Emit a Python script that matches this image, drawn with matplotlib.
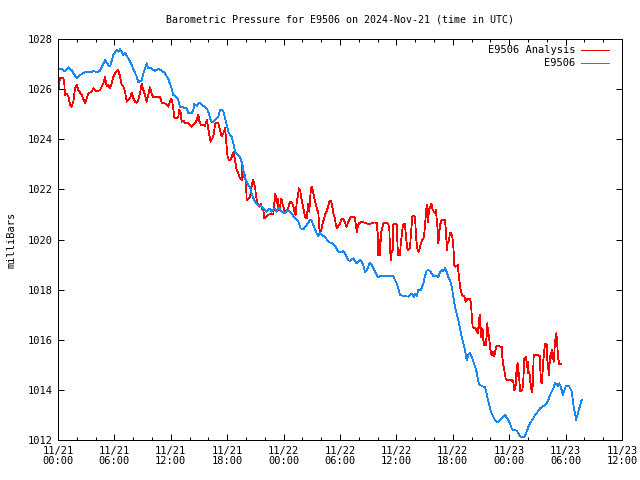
import matplotlib
matplotlib.use('Agg')
import matplotlib.pyplot as plt
from matplotlib.lines import Line2D

# Hours since 2024-11-21 00:00 UTC
red_hours = [0.0, 0.2, 0.57, 0.67, 0.74, 0.92, 1.1, 1.28, 1.45, 1.63, 1.81, 1.99, 2.16, 2.52, 2.87, 3.05,
             3.23, 3.58, 3.76, 4.11, 4.47, 4.82, 5.0, 5.18, 5.35, 5.53, 5.71, 5.89, 6.06, 6.24, 6.42, 6.6,
             6.77, 6.95, 7.13, 7.31, 7.48, 7.66, 7.84, 8.01, 8.19, 8.37, 8.55, 8.72, 8.9, 9.08, 9.25, 9.43,
             9.6, 9.78, 9.96, 10.1, 10.85, 11.03, 11.38, 11.56, 11.74, 12.02, 12.16, 12.38, 12.62, 12.8,
             12.9, 13.05, 13.16, 13.33, 13.5, 13.87, 14.22, 14.4, 14.57, 14.75, 14.93, 15.03, 15.2, 15.46,
             15.64, 15.82, 15.92, 16.1, 16.24, 16.42, 16.6, 16.7, 16.88, 17.05, 17.23, 17.41, 17.59, 17.77,
             17.94, 18.05, 18.19, 18.4, 18.55, 18.69, 18.83, 19.01, 19.19, 19.36, 19.54, 19.61, 19.72, 19.79,
             19.89, 20.0, 20.07, 20.25, 20.43, 20.53, 20.64, 20.78, 20.96, 21.06, 21.2, 21.31, 21.42, 21.56,
             21.67, 21.84, 21.95, 22.13, 22.38, 22.73, 22.91, 23.01, 23.12, 23.26, 23.37, 23.48, 23.62, 23.76,
             23.9, 24.04, 24.18, 24.33, 24.5, 24.61, 24.75, 24.93, 25.04, 25.14, 25.28, 25.39, 25.5, 25.64,
             25.78, 25.89, 26.03, 26.17, 26.28, 26.45, 26.63, 26.74, 26.81, 26.91, 27.02, 27.16, 27.3, 27.44,
             27.59, 27.7, 27.8, 27.94, 28.05, 28.16, 28.3, 28.44, 28.58, 28.72, 28.87, 29.01, 29.15, 29.29,
             29.43, 29.57, 29.68, 29.82, 30.0, 30.18, 30.35, 30.53, 30.71, 30.89, 31.06, 31.24, 31.42, 31.6,
             31.7, 31.81, 31.88, 32.02, 32.23, 32.66, 33.01, 33.37, 33.55, 33.9, 34.01, 34.08, 34.18, 34.26,
             34.36, 34.43, 34.61, 34.72, 34.96, 35.14, 35.25, 35.32, 35.43, 35.5, 35.6, 35.67, 35.78, 36.03,
             36.14, 36.2, 36.38, 36.49, 36.56, 36.67, 36.81, 36.91, 37.02, 37.16, 37.27, 37.45, 37.55, 37.7,
             37.84, 37.98, 38.09, 38.19, 38.33, 38.44, 38.62, 38.76, 38.87, 38.97, 39.11, 39.22, 39.29, 39.36,
             39.47, 39.61, 39.72, 39.82, 39.97, 40.11, 40.21, 40.28, 40.39, 40.46, 40.53, 40.64, 40.82, 40.99,
             41.17, 41.28, 41.38, 41.45, 41.6, 41.7, 41.81, 41.95, 42.06, 42.16, 42.3, 42.52, 42.66, 42.77,
             42.87, 43.01, 43.23, 43.37, 43.51, 43.65, 43.83, 43.94, 44.01, 44.11, 44.29, 44.43, 44.57, 44.65,
             44.72, 44.79, 44.86, 44.93, 45.0, 45.07, 45.18, 45.25, 45.35, 45.5, 45.6, 45.67, 45.74, 45.85,
             45.96, 46.06, 46.17, 46.28, 46.38, 46.49, 46.6, 46.7, 47.2, 47.27, 47.38, 47.48, 47.62, 47.73,
             48.26, 48.44, 48.55, 48.69, 48.79, 48.9, 48.97, 49.04, 49.15, 49.4, 49.5, 49.61, 49.68, 49.79,
             49.89, 49.96, 50.04, 50.14, 50.25, 50.39, 50.46, 50.53, 50.6, 50.67, 50.89, 51.1, 51.24, 51.31,
             51.38, 51.45, 51.52, 51.6, 51.7, 51.81, 51.88, 51.99, 52.06, 52.16, 52.23, 52.3, 52.41, 52.52,
             52.59, 52.66, 52.73, 52.8, 52.87, 52.94, 53.01, 53.08, 53.15, 53.22, 53.3, 53.55]
red_mbar = [1025.80, 1026.43, 1026.43, 1026.23, 1025.77, 1025.83, 1025.70, 1025.37, 1025.30, 1025.50, 1026.03,
            1026.16, 1025.96, 1025.77, 1025.43, 1025.63, 1025.83, 1025.90, 1026.03, 1025.90, 1025.96, 1026.23,
            1026.47, 1026.10, 1026.16, 1026.03, 1026.23, 1026.50, 1026.63, 1026.70, 1026.76, 1026.50, 1026.16,
            1026.10, 1025.90, 1025.50, 1025.57, 1025.63, 1025.86, 1025.63, 1025.50, 1025.46, 1025.57, 1025.83,
            1026.20, 1025.96, 1025.77, 1025.50, 1025.77, 1026.07, 1025.83, 1025.70, 1025.70, 1025.46, 1025.43,
            1025.37, 1025.30, 1025.63, 1025.50, 1024.87, 1024.84, 1024.90, 1025.17, 1025.04, 1024.70, 1024.74,
            1024.66, 1024.64, 1024.50, 1024.57, 1024.64, 1024.77, 1024.97, 1024.74, 1024.57, 1024.57, 1024.53,
            1024.77, 1024.57, 1024.17, 1023.90, 1024.04, 1024.24, 1024.61, 1024.66, 1024.64, 1024.37, 1024.13,
            1024.24, 1024.44, 1023.70, 1023.30, 1023.17, 1023.20, 1023.37, 1023.50, 1023.17, 1022.77, 1022.64,
            1022.44, 1022.37, 1023.04, 1022.70, 1022.50, 1022.57, 1022.31, 1021.58, 1021.61, 1021.71, 1021.91,
            1022.24, 1022.37, 1022.11, 1021.77, 1021.44, 1021.38, 1021.31, 1021.44, 1021.24, 1021.18, 1020.84,
            1020.91, 1021.00, 1021.01, 1021.04, 1021.44, 1021.84, 1021.44, 1021.64, 1021.18, 1021.31, 1021.64,
            1021.38, 1021.24, 1021.04, 1021.18, 1021.24, 1021.44, 1021.51, 1021.44, 1021.31, 1021.11, 1020.98,
            1021.44, 1021.71, 1022.04, 1021.91, 1021.64, 1021.38, 1021.11, 1020.91, 1020.84, 1021.44, 1021.11,
            1021.58, 1022.04, 1022.11, 1021.84, 1021.58, 1021.38, 1021.18, 1021.04, 1020.44, 1020.31, 1020.44,
            1020.64, 1020.84, 1021.04, 1021.11, 1021.31, 1021.51, 1021.55, 1021.38, 1021.04, 1020.88, 1020.58,
            1020.44, 1020.54, 1020.64, 1020.81, 1020.84, 1020.67, 1020.51, 1020.71, 1020.84, 1020.91, 1020.91,
            1020.84, 1020.51, 1020.31, 1020.51, 1020.64, 1020.71, 1020.67, 1020.62, 1020.64, 1020.68, 1020.67,
            1020.25, 1019.38, 1019.98, 1019.38, 1020.25, 1020.38, 1020.64, 1020.68, 1020.67, 1020.62, 1020.38,
            1019.58, 1019.18, 1019.51, 1019.58, 1020.58, 1020.62, 1020.61, 1019.58, 1019.38, 1019.38, 1019.98,
            1020.11, 1020.51, 1020.64, 1020.62, 1020.11, 1019.65, 1019.58, 1019.65, 1020.25, 1020.91, 1020.94,
            1020.91, 1020.11, 1019.71, 1019.51, 1019.58, 1019.85, 1019.98, 1020.04, 1020.25, 1020.91, 1021.38,
            1021.04, 1020.71, 1021.18, 1021.31, 1021.44, 1021.24, 1021.11, 1021.04, 1021.18, 1020.84, 1020.38,
            1019.85, 1020.11, 1020.58, 1020.78, 1020.80, 1020.78, 1020.25, 1019.58, 1019.85, 1019.98, 1020.25,
            1020.28, 1020.11, 1019.71, 1018.98, 1018.91, 1018.98, 1018.51, 1018.12, 1017.92, 1017.78, 1017.72,
            1017.52, 1017.61, 1017.65, 1017.65, 1017.45, 1016.99, 1016.52, 1016.46, 1016.46, 1016.32, 1016.46,
            1016.26, 1016.79, 1016.99, 1016.66, 1016.12, 1016.46, 1016.39, 1015.99, 1015.79, 1015.79, 1016.12,
            1016.66, 1016.32, 1016.12, 1015.72, 1015.46, 1015.39, 1015.52, 1015.35, 1015.46, 1015.72, 1015.75,
            1015.72, 1015.32, 1014.99, 1014.79, 1014.46, 1014.39, 1014.39, 1014.32, 1013.99, 1014.19, 1014.86,
            1015.06, 1014.52, 1014.66, 1013.93, 1013.99, 1014.39, 1015.26, 1015.19, 1015.32, 1014.92, 1015.12,
            1014.66, 1014.72, 1014.32, 1013.93, 1013.93, 1014.39, 1015.32, 1015.39, 1015.39, 1015.39, 1015.35,
            1014.79, 1014.32, 1014.26, 1014.46, 1015.06, 1015.46, 1015.83, 1015.83, 1015.79, 1015.19, 1014.86,
            1014.59, 1015.06, 1015.46, 1015.26, 1015.59, 1015.32, 1015.12, 1015.46, 1015.99, 1015.99, 1016.26,
            1015.99, 1015.59, 1015.26, 1015.03, 1015.03]

blue_hours = [0.0, 0.5, 0.74, 1.1, 1.45, 1.99, 2.34, 2.87, 3.58, 3.76, 4.11, 4.47, 5.0, 5.35, 5.53, 5.89,
              6.24, 6.42, 6.6, 6.95, 7.13, 7.48, 7.84, 8.37, 8.55, 8.9, 9.08, 9.43, 9.6, 9.96, 10.3, 10.65,
              11.0, 11.38, 11.74, 12.09, 12.27, 12.62, 12.8, 12.98, 13.33, 13.69, 13.87, 14.22, 14.4, 14.5,
              14.75, 14.93, 15.1, 15.46, 15.64, 15.82, 15.99, 16.17, 16.35, 16.52, 16.7, 17.05, 17.23, 17.41,
              17.59, 17.77, 17.94, 18.12, 18.3, 18.48, 18.65, 18.83, 19.01, 19.36, 19.54, 19.72, 19.89, 20.07,
              20.25, 20.43, 20.6, 20.78, 20.96, 21.31, 21.67, 22.02, 22.2, 22.55, 22.73, 23.09, 23.26, 23.44,
              23.8, 24.15, 24.5, 24.86, 25.21, 25.57, 25.82, 26.1, 26.45, 26.81, 26.91, 27.23, 27.52, 27.7,
              27.87, 28.05, 28.4, 28.76, 29.29, 29.54, 29.82, 30.18, 30.35, 30.53, 30.71, 30.89, 31.06, 31.42,
              31.6, 31.77, 32.13, 32.3, 32.48, 32.66, 32.84, 33.19, 33.37, 33.55, 33.72, 33.9, 34.08, 34.26,
              35.32, 35.67, 35.85, 36.03, 36.2, 36.38, 36.91, 37.27, 37.45, 37.62, 37.8, 37.91, 37.98, 38.16,
              38.33, 38.62, 38.87, 39.04, 39.22, 39.4, 39.57, 39.75, 39.93, 40.11, 40.28, 40.46, 40.64, 40.82,
              40.99, 41.17, 41.35, 41.52, 41.7, 41.88, 42.06, 42.23, 42.41, 42.59, 42.77, 42.94, 43.12, 43.3,
              43.48, 43.65, 43.83, 44.01, 44.19, 44.36, 44.54, 44.72, 44.89, 45.25, 45.43, 45.6, 45.78, 45.96,
              46.13, 46.31, 46.49, 46.67, 46.84, 47.02, 47.2, 47.38, 47.55, 47.73, 47.91, 48.09, 48.26, 48.44,
              48.79, 48.97, 49.15, 49.33, 49.5, 49.68, 49.86, 50.04, 50.21, 50.39, 50.57, 50.74, 50.92, 51.1,
              51.28, 51.45, 51.63, 51.81, 51.99, 52.16, 52.34, 52.52, 52.7, 52.87, 53.05, 53.15, 53.23, 53.33,
              53.48, 53.58, 53.69, 53.83, 54.0, 54.18, 54.36, 54.5, 54.65, 54.75, 54.86, 55.0, 55.11, 55.21,
              55.36, 55.5, 55.64, 55.71]
blue_mbar = [1026.79, 1026.79, 1026.70, 1026.87, 1026.76, 1026.43, 1026.56, 1026.67, 1026.67, 1026.74, 1026.67,
             1026.74, 1027.16, 1026.96, 1026.90, 1027.36, 1027.56, 1027.49, 1027.59, 1027.36, 1027.45, 1027.23,
             1026.96, 1026.50, 1026.26, 1026.36, 1026.63, 1027.03, 1026.83, 1026.83, 1026.72, 1026.80, 1026.76,
             1026.63, 1026.40, 1026.03, 1025.77, 1025.67, 1025.57, 1025.30, 1025.27, 1025.23, 1025.04, 1025.04,
             1025.17, 1025.41, 1025.33, 1025.43, 1025.46, 1025.33, 1025.30, 1025.23, 1025.10, 1024.84, 1024.70,
             1024.70, 1024.77, 1024.90, 1025.17, 1025.19, 1025.10, 1024.84, 1024.57, 1024.30, 1024.17, 1024.10,
             1023.84, 1023.50, 1023.41, 1023.30, 1023.10, 1022.75, 1022.44, 1022.31, 1022.17, 1022.11, 1021.84,
             1021.64, 1021.51, 1021.38, 1021.31, 1021.18, 1021.11, 1021.24, 1021.11, 1021.24, 1021.11, 1021.28,
             1021.11, 1021.04, 1021.18, 1021.04, 1020.84, 1020.71, 1020.44, 1020.40, 1020.58, 1020.78, 1020.80,
             1020.51, 1020.25, 1020.14, 1020.27, 1020.18, 1020.11, 1019.91, 1019.82, 1019.71, 1019.51, 1019.51,
             1019.54, 1019.45, 1019.31, 1019.18, 1019.14, 1019.25, 1019.14, 1019.05, 1019.18, 1019.11, 1018.98,
             1018.71, 1018.78, 1019.08, 1018.98, 1018.85, 1018.71, 1018.58, 1018.49, 1018.54, 1018.55, 1018.54,
             1018.38, 1018.25, 1018.05, 1017.78, 1017.74, 1017.72, 1017.78, 1017.85, 1017.74, 1017.69, 1017.85,
             1017.74, 1017.98, 1018.00, 1018.25, 1018.54, 1018.76, 1018.78, 1018.74, 1018.65, 1018.54, 1018.52,
             1018.56, 1018.51, 1018.71, 1018.78, 1018.74, 1018.85, 1018.71, 1018.51, 1018.38, 1018.12, 1017.72,
             1017.32, 1017.05, 1016.79, 1016.46, 1016.12, 1015.86, 1015.59, 1015.19, 1015.39, 1015.48, 1015.32,
             1015.12, 1014.92, 1014.72, 1014.32, 1014.19, 1014.13, 1014.10, 1013.86, 1013.53, 1013.26, 1013.06,
             1012.93, 1012.80, 1012.73, 1012.73, 1012.80, 1012.86, 1012.93, 1013.00, 1012.90, 1012.80, 1012.64,
             1012.47, 1012.40, 1012.37, 1012.27, 1012.16, 1012.11, 1012.11, 1012.16, 1012.33, 1012.53, 1012.66,
             1012.77, 1012.86, 1013.00, 1013.06, 1013.17, 1013.26, 1013.30, 1013.35, 1013.39, 1013.46, 1013.59,
             1013.79, 1013.93, 1014.06, 1014.29, 1014.19, 1014.23, 1014.13, 1014.26, 1014.13, 1013.99, 1013.79,
             1013.93, 1014.13, 1014.18, 1014.15, 1014.06, 1013.93, 1013.66, 1013.33, 1013.06, 1012.80, 1012.93,
             1013.13, 1013.33, 1013.53, 1013.59]

x_tick_hours = [0, 6, 12, 18, 24, 30, 36, 42, 48, 54, 60]
x_tick_labels = ['11/21\n00:00', '11/21\n06:00', '11/21\n12:00', '11/21\n18:00', '11/22\n00:00',
                 '11/22\n06:00', '11/22\n12:00', '11/22\n18:00', '11/23\n00:00', '11/23\n06:00',
                 '11/23\n12:00']
y_ticks = [1012, 1014, 1016, 1018, 1020, 1022, 1024, 1026, 1028]

series_names = ['E9506 Analysis', 'E9506']
series_colors = ['#ff0000', '#1a86f0']

plt.rcParams['font.family'] = ['DejaVu Sans Mono']
FS = 7.5
LW = 0.55

W, H = 640, 480
fig = plt.figure(figsize=(6.4, 4.8), dpi=100)
ax = fig.add_axes([58 / W, 40 / H, 564 / W, 401 / H])

ax.plot(red_hours, red_mbar, color=series_colors[0], lw=LW, antialiased=False)
ax.plot(blue_hours, blue_mbar, color=series_colors[1], lw=LW, antialiased=False)

ax.set_xlim(0, 60)
ax.set_ylim(1012, 1028)
ax.set_xticks(x_tick_hours)
ax.set_xticklabels(x_tick_labels, fontsize=FS, linespacing=1.1)
ax.set_xticks(range(0, 61, 2), minor=True)
ax.set_yticks(y_ticks)
ax.set_yticklabels([str(v) for v in y_ticks], fontsize=FS)
ax.tick_params(which='both', direction='in', top=True, right=True, width=0.72, color='black')
ax.tick_params(which='major', length=4.5, pad=4)
ax.tick_params(which='minor', length=2.5)
for s in ax.spines.values():
    s.set_linewidth(0.72)
    s.set_antialiased(False)

fig.text(340 / W, 1 - 20 / H, 'Barometric Pressure for E9506 on 2024-Nov-21 (time in UTC)',
         ha='center', va='center', fontsize=7.2)
fig.text(12 / W, 1 - 240 / H, 'milliBars', rotation=90, ha='center', va='center', fontsize=FS)

for i, (name, col) in enumerate(zip(series_names, series_colors)):
    yy = 1 - (50 + 13 * i) / H
    fig.text(575 / W, yy, name, ha='right', va='center', fontsize=FS)
    fig.add_artist(Line2D([581 / W, 609 / W], [yy, yy], transform=fig.transFigure,
                          color=col, lw=LW, antialiased=False))

fig.savefig('out.png', dpi=100)
